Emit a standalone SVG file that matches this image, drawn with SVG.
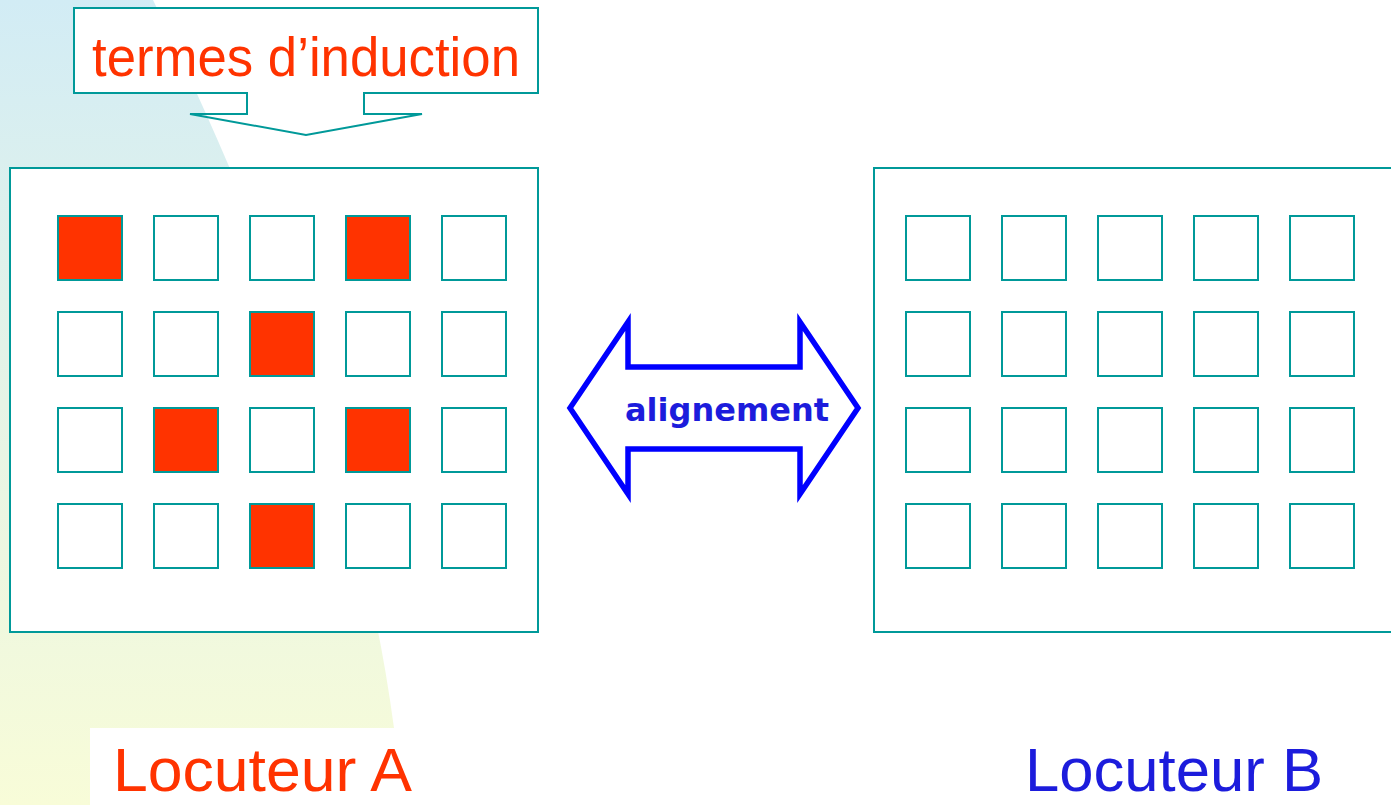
<svg xmlns="http://www.w3.org/2000/svg" width="1391" height="805" viewBox="0 0 1391 805">
  <defs>
    <linearGradient id="bg" x1="0" y1="0" x2="0" y2="1">
      <stop offset="0" stop-color="#D2ECF5"/>
      <stop offset="0.5" stop-color="#E6F4E6"/>
      <stop offset="1" stop-color="#F8FCD8"/>
    </linearGradient>
    <style>
      .frame { fill: #FFFFFF; stroke: #009999; stroke-width: 2; }
      .cell { fill: #FFFFFF; stroke: #009999; stroke-width: 2; }
      .on { fill: #FF3300; }
      .red { fill: #FF3300; font-family: "Liberation Sans", Arial, sans-serif; }
      .blue { fill: #1C1CDC; font-family: "Liberation Sans", Arial, sans-serif; }
    </style>
  </defs>

  <rect x="0" y="0" width="1391" height="805" fill="#FFFFFF"/>
  <path d="M0,0 L153,0 C255,210 360,470 394,728 L90,728 L90,805 L0,805 Z" fill="url(#bg)"/>
  <rect x="90" y="728" width="330" height="77" fill="#FFFFFF"/>

  <g id="callout">
    <rect x="74" y="8" width="464" height="85" fill="#FFFFFF"/>
    <path d="M74,8 L538,8 L538,93 L364,93 L364,114 L422,114 L306,135 L190,114 L247,114 L247,93 L74,93 Z" fill="none" stroke="#009999" stroke-width="2"/>
    <text class="red" x="92" y="76" font-size="55" textLength="428" lengthAdjust="spacingAndGlyphs">termes d’induction</text>
  </g>

  <g id="locuteurA">
    <rect class="frame" x="10" y="168" width="528" height="464"/>
    <g>
      <rect class="cell on" x="58" y="216" width="64" height="64"/>
      <rect class="cell" x="154" y="216" width="64" height="64"/>
      <rect class="cell" x="250" y="216" width="64" height="64"/>
      <rect class="cell on" x="346" y="216" width="64" height="64"/>
      <rect class="cell" x="442" y="216" width="64" height="64"/>

      <rect class="cell" x="58" y="312" width="64" height="64"/>
      <rect class="cell" x="154" y="312" width="64" height="64"/>
      <rect class="cell on" x="250" y="312" width="64" height="64"/>
      <rect class="cell" x="346" y="312" width="64" height="64"/>
      <rect class="cell" x="442" y="312" width="64" height="64"/>

      <rect class="cell" x="58" y="408" width="64" height="64"/>
      <rect class="cell on" x="154" y="408" width="64" height="64"/>
      <rect class="cell" x="250" y="408" width="64" height="64"/>
      <rect class="cell on" x="346" y="408" width="64" height="64"/>
      <rect class="cell" x="442" y="408" width="64" height="64"/>

      <rect class="cell" x="58" y="504" width="64" height="64"/>
      <rect class="cell" x="154" y="504" width="64" height="64"/>
      <rect class="cell on" x="250" y="504" width="64" height="64"/>
      <rect class="cell" x="346" y="504" width="64" height="64"/>
      <rect class="cell" x="442" y="504" width="64" height="64"/>
    </g>
    <text class="red" x="113" y="791" font-size="62" textLength="299" lengthAdjust="spacingAndGlyphs">Locuteur A</text>
  </g>

  <g id="locuteurB">
    <rect class="frame" x="874" y="168" width="530" height="464"/>
    <g>
      <rect class="cell" x="906" y="216" width="64" height="64"/>
      <rect class="cell" x="1002" y="216" width="64" height="64"/>
      <rect class="cell" x="1098" y="216" width="64" height="64"/>
      <rect class="cell" x="1194" y="216" width="64" height="64"/>
      <rect class="cell" x="1290" y="216" width="64" height="64"/>

      <rect class="cell" x="906" y="312" width="64" height="64"/>
      <rect class="cell" x="1002" y="312" width="64" height="64"/>
      <rect class="cell" x="1098" y="312" width="64" height="64"/>
      <rect class="cell" x="1194" y="312" width="64" height="64"/>
      <rect class="cell" x="1290" y="312" width="64" height="64"/>

      <rect class="cell" x="906" y="408" width="64" height="64"/>
      <rect class="cell" x="1002" y="408" width="64" height="64"/>
      <rect class="cell" x="1098" y="408" width="64" height="64"/>
      <rect class="cell" x="1194" y="408" width="64" height="64"/>
      <rect class="cell" x="1290" y="408" width="64" height="64"/>

      <rect class="cell" x="906" y="504" width="64" height="64"/>
      <rect class="cell" x="1002" y="504" width="64" height="64"/>
      <rect class="cell" x="1098" y="504" width="64" height="64"/>
      <rect class="cell" x="1194" y="504" width="64" height="64"/>
      <rect class="cell" x="1290" y="504" width="64" height="64"/>
    </g>
    <text class="blue" x="1025" y="791" font-size="62" textLength="298" lengthAdjust="spacingAndGlyphs">Locuteur B</text>
  </g>

  <g id="connectors">
    <path d="M570,408 L628,322 L628,367 L800,367 L800,322 L858,408 L800,494 L800,449 L628,449 L628,494 Z" fill="#FFFFFF" stroke="#0000FF" stroke-width="5.5" stroke-linejoin="miter"/>
    <text x="727" y="421" font-family="'DejaVu Sans', Verdana, sans-serif" font-weight="bold" font-size="32" fill="#1C1CDC" text-anchor="middle">alignement</text>
  </g>
</svg>
